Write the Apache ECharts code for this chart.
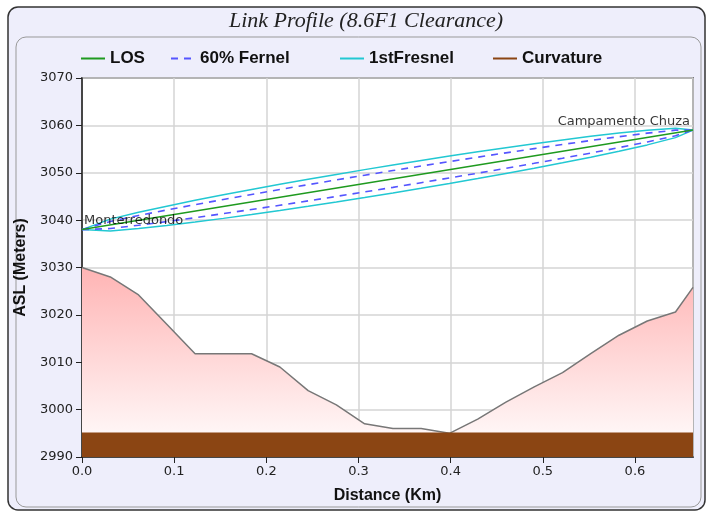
<!DOCTYPE html>
<html>
<head>
<meta charset="utf-8">
<script src="https://cdn.jsdelivr.net/npm/echarts@6/dist/echarts.min.js"></script>
<style>
html,body{margin:0;padding:0;background:#fff;}
#c{width:707px;height:512px;}
</style>
</head>
<body>
<div id="c"></div>
<script>
var distance = [0, 0.0307, 0.0614, 0.092, 0.1227, 0.1534, 0.184, 0.2147, 0.2454, 0.276, 0.3067, 0.3374, 0.368, 0.3987, 0.4294, 0.46, 0.4907, 0.5214, 0.552, 0.5827, 0.6134, 0.644, 0.663];
var terrain = [3030, 3028, 3024.2, 3018, 3011.8, 3011.8, 3011.8, 3009, 3004, 3001, 2997, 2996, 2996, 2995, 2998, 3001.6, 3004.8, 3007.8, 3011.8, 3015.7, 3018.7, 3020.6, 3025.8];
var curvature = [2995, 2995, 2995, 2995, 2995, 2995, 2995, 2995, 2995, 2995, 2995, 2995, 2995, 2995, 2995, 2995, 2995, 2995, 2995, 2995, 2995, 2995, 2995];
var losDistance = [0, 0.663];
var losValues = [3038, 3059];
var fresnelUpper = [3038, 3040.21, 3041.66, 3042.95, 3044.18, 3045.35, 3046.47, 3047.56, 3048.62, 3049.65, 3050.66, 3051.64, 3052.59, 3053.52, 3054.42, 3055.29, 3056.13, 3056.93, 3057.69, 3058.38, 3058.98, 3059.38, 3059];
var fresnelLower = [3038, 3037.73, 3038.24, 3038.87, 3039.60, 3040.37, 3041.19, 3042.04, 3042.92, 3043.83, 3044.77, 3045.74, 3046.72, 3047.74, 3048.78, 3049.85, 3050.95, 3052.10, 3053.28, 3054.53, 3055.88, 3057.41, 3059];
var fernel60Upper = [3038, 3039.72, 3040.97, 3042.14, 3043.26, 3044.35, 3045.41, 3046.46, 3047.48, 3048.49, 3049.48, 3050.46, 3051.42, 3052.36, 3053.29, 3054.20, 3055.10, 3055.97, 3056.81, 3057.61, 3058.36, 3058.99, 3059];
var fernel60Lower = [3038, 3038.23, 3038.92, 3039.69, 3040.51, 3041.37, 3042.24, 3043.14, 3044.06, 3045.00, 3045.95, 3046.92, 3047.90, 3048.90, 3049.91, 3050.94, 3051.99, 3053.06, 3054.16, 3055.30, 3056.50, 3057.81, 3059];
var siteNames = ['Monterredondo', 'Campamento Chuza'];
var yTicks = [2990, 3000, 3010, 3020, 3030, 3040, 3050, 3060, 3070];
var xTicks = [0.0, 0.1, 0.2, 0.3, 0.4, 0.5, 0.6];

function zip(xs, ys){ return xs.map(function(x,i){ return [x, ys[i]]; }); }

var chart = echarts.init(document.getElementById('c'), null, {renderer:'canvas'});

var legendText = {fontFamily:'Liberation Sans', fontWeight:'bold', fontSize:17, color:'#111'};
function mkLegend(name, left){
  return {data:[name], left:left, top:50, itemWidth:24, itemHeight:12, itemGap:4, textStyle:legendText, padding:0, selectedMode:false,
          itemStyle:{color:'rgba(0,0,0,0)', borderColor:'rgba(0,0,0,0)', borderWidth:0, opacity:0}};
}
var siteLabel = {show:true, fontFamily:'DejaVu Sans', fontSize:13, color:'#000', position:'top', distance:1};

var option = {
  animation:false,
  backgroundColor:'#ffffff',
  graphic:{ elements:[
    {type:'rect', z:-10, silent:true, shape:{x:8, y:7, width:697, height:503, r:10}, style:{fill:'#EEEEFB', stroke:'#333', lineWidth:1.5}},
    {type:'rect', z:-9, silent:true, shape:{x:16, y:37, width:685, height:470, r:10}, style:{fill:'#EEEEFB', stroke:'#999', lineWidth:1}},
    {type:'text', z:5, silent:true, x:366, y:21, style:{text:'Link Profile (8.6F1 Clearance)', fontFamily:'Liberation Serif', fontStyle:'italic', fontSize:22, fill:'#222', align:'center', verticalAlign:'middle'}}
  ]},
  legend:[
    mkLegend('LOS', 80),
    mkLegend('60% Fernel', 170),
    mkLegend('1stFresnel', 339),
    mkLegend('Curvature', 492)
  ],
  grid:{left:82, right:14, top:78, bottom:55, show:true, backgroundColor:'#ffffff', borderColor:'#222', borderWidth:1.5, containLabel:false},
  xAxis:{
    type:'value', min:0, max:0.663, interval:0.1,
    name:'Distance (Km)', nameLocation:'middle', nameGap:31,
    nameTextStyle:{fontFamily:'Liberation Sans', fontWeight:'bold', fontSize:16, color:'#111'},
    axisLine:{show:true, lineStyle:{color:'#222', width:1.5}},
    axisTick:{show:true, length:6, lineStyle:{color:'#222'}},
    axisLabel:{showMaxLabel:false, fontFamily:'DejaVu Sans', fontSize:13, color:'#222', margin:8, formatter:function(v){ return v.toFixed(1); }},
    splitLine:{show:true, lineStyle:{color:'#d4d4d4', width:1.5}}
  },
  yAxis:{
    type:'value', min:2990, max:3070, interval:10,
    name:'ASL (Meters)', nameLocation:'middle', nameGap:50, nameRotate:90,
    nameTextStyle:{fontFamily:'Liberation Sans', fontWeight:'bold', fontSize:16, color:'#111'},
    axisLine:{show:true, lineStyle:{color:'#222', width:1.5}},
    axisTick:{show:true, length:6, lineStyle:{color:'#222'}},
    axisLabel:{fontFamily:'DejaVu Sans', fontSize:13, color:'#222', margin:9, formatter:function(v){ return String(v); }},
    splitLine:{show:true, lineStyle:{color:'#d4d4d4', width:1.5}}
  },
  series:[
    {name:'Terrain', type:'line', data:zip(distance, terrain), symbol:'none', z:1,
     lineStyle:{color:'#777777', width:1.5},
     areaStyle:{origin:'start', opacity:1, color:new echarts.graphic.LinearGradient(0,0,0,1,[{offset:0,color:'#ffb4b4'},{offset:1,color:'#ffffff'}])}},
    {name:'Curvature', type:'line', data:zip(distance, curvature), symbol:'none', z:2, color:'#8B4513',
     lineStyle:{color:'#8B4513', width:1.5},
     areaStyle:{origin:'start', opacity:1, color:'#8B4513'}},
    {name:'1stFresnel', type:'line', data:zip(distance, fresnelUpper), symbol:'none', z:3, color:'#22c8d2',
     lineStyle:{color:'#22c8d2', width:1.5}},
    {name:'1stFresnel', type:'line', data:zip(distance, fresnelLower), symbol:'none', z:3, color:'#22c8d2',
     lineStyle:{color:'#22c8d2', width:1.5}},
    {name:'60% Fernel', type:'line', data:zip(distance, fernel60Upper), symbol:'none', z:4, color:'#5555ff',
     lineStyle:{color:'#5555ff', width:1.6, type:[7,6]}},
    {name:'60% Fernel', type:'line', data:zip(distance, fernel60Lower), symbol:'none', z:4, color:'#5555ff',
     lineStyle:{color:'#5555ff', width:1.6, type:[7,6]}},
    {name:'LOS', type:'line', data:zip(losDistance, losValues), symbol:'none', z:5, color:'#1f9a1f',
     lineStyle:{color:'#1f9a1f', width:1.5}},
    {name:'Sites', type:'scatter', symbol:'circle', symbolSize:2, z:6, itemStyle:{color:'rgba(0,0,0,0)'}, silent:true,
     data:[
       {value:[losDistance[0], losValues[0]], label:Object.assign({}, siteLabel, {formatter:siteNames[0], align:'left', offset:[2,0]})},
       {value:[losDistance[1], losValues[1]], label:Object.assign({}, siteLabel, {formatter:siteNames[1], align:'right', offset:[-3,0]})}
     ],
     label:siteLabel}
  ]
};
chart.setOption(option);
</script>
</body>
</html>
